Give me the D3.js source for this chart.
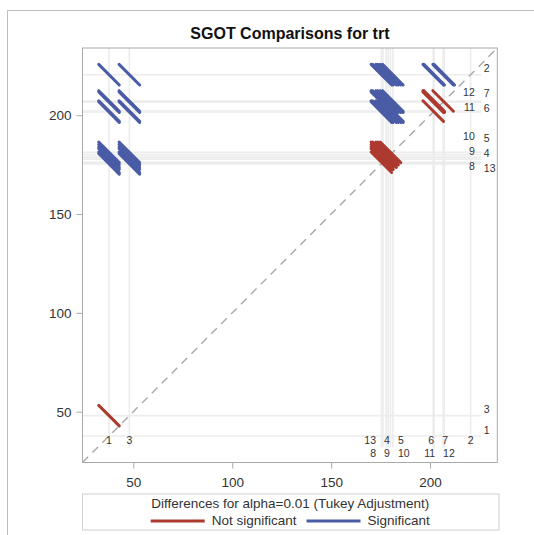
<!DOCTYPE html>
<html>
<head>
<meta charset="utf-8">
<script src="https://cdn.jsdelivr.net/npm/d3@7"></script>
<style>
  body { margin: 0; background: #fff; }
  text { font-family: "Liberation Sans", Arial, sans-serif; }
</style>
</head>
<body>
<svg id="chart" width="534" height="535"></svg>
<script>
// ---------------- data ----------------
const titleText = "SGOT Comparisons for trt";
const legendTitle = "Differences for alpha=0.01 (Tukey Adjustment)";
const legendLabels = ["Not significant", "Significant"];
const levels = ["1", "2", "3", "4", "5", "6", "7", "8", "9", "10", "11", "12", "13"];
const lsmeans = [37.7, 220.5, 48.0, 177.8, 180.0, 201.6, 206.6, 176.2, 178.8, 181.2, 202.1, 207.2, 175.4];
const ciHalfWidth = 10.4;          // Tukey-adjusted CI half-width of a difference
const xTicks = [50, 100, 150, 200];
const yTicks = [50, 100, 150, 200];
const axisDomain = [24.3, 234.0];

// ---------------- layout ----------------
const W = 534, H = 535;
const frame = { left: 82.5, top: 48, right: 497.3, bottom: 462.5 };
const colors = { sig: "#4a5ca6", nonsig: "#ad3a2f", ref: "#ececec", frame: "#a9a9a9", text: "#333" };

const svg = d3.select("#chart");

// outer border
svg.append("rect").attr("x", 7.5).attr("y", 10.5).attr("width", 600).attr("height", 600)
  .attr("fill", "none").attr("stroke", "#bdbdbd");

// title
svg.append("text").attr("x", (frame.left + frame.right) / 2).attr("y", 39)
  .attr("text-anchor", "middle").attr("font-size", 16).attr("font-weight", "bold")
  .attr("fill", "#111").text(titleText);

const x = d3.scaleLinear().domain(axisDomain).range([frame.left, frame.right]);
const y = d3.scaleLinear().domain(axisDomain).range([frame.bottom, frame.top]);

svg.append("clipPath").attr("id", "plotclip").append("rect")
  .attr("x", frame.left).attr("y", frame.top)
  .attr("width", frame.right - frame.left).attr("height", frame.bottom - frame.top);

const plot = svg.append("g").attr("clip-path", "url(#plotclip)");

// reference lines
const hLineEnd = frame.right - 16;
const vLineEnd = frame.bottom - 15;
plot.append("g").selectAll("line.h").data(lsmeans).join("line")
  .attr("x1", frame.left).attr("x2", hLineEnd)
  .attr("y1", d => y(d)).attr("y2", d => y(d))
  .attr("stroke", colors.ref).attr("stroke-width", 1.6);
plot.append("g").selectAll("line.v").data(lsmeans).join("line")
  .attr("y1", frame.top).attr("y2", vLineEnd)
  .attr("x1", d => x(d)).attr("x2", d => x(d))
  .attr("stroke", colors.ref).attr("stroke-width", 1.6);

// diagonal
plot.append("line")
  .attr("x1", x(axisDomain[0])).attr("y1", y(axisDomain[0]))
  .attr("x2", x(axisDomain[1])).attr("y2", y(axisDomain[1]))
  .attr("stroke", "#a8a8a8").attr("stroke-width", 1.4).attr("stroke-dasharray", "8,6");

// pairwise comparison segments
const pairs = [];
for (let i = 0; i < levels.length; i++) {
  for (let j = i + 1; j < levels.length; j++) {
    const lo = Math.min(lsmeans[i], lsmeans[j]);
    const hi = Math.max(lsmeans[i], lsmeans[j]);
    pairs.push({ lo, hi, sig: (hi - lo) > ciHalfWidth });
  }
}
const hw = ciHalfWidth / 2;
plot.append("g").selectAll("line").data(pairs).join("line")
  .attr("x1", d => x(d.lo - hw)).attr("y1", d => y(d.hi + hw))
  .attr("x2", d => x(d.lo + hw)).attr("y2", d => y(d.hi - hw))
  .attr("stroke", d => d.sig ? colors.sig : colors.nonsig)
  .attr("stroke-width", 3).attr("stroke-linecap", "round");

// frame
svg.append("rect").attr("x", frame.left).attr("y", frame.top)
  .attr("width", frame.right - frame.left).attr("height", frame.bottom - frame.top)
  .attr("fill", "none").attr("stroke", colors.frame);

// axes
const yAxis = svg.append("g").attr("transform", `translate(${frame.left},0)`)
  .call(d3.axisLeft(y).tickValues(yTicks).tickSize(6).tickPadding(5).tickSizeOuter(0));
const xAxis = svg.append("g").attr("transform", `translate(0,${frame.bottom})`)
  .call(d3.axisBottom(x).tickValues(xTicks).tickSize(6).tickPadding(9).tickSizeOuter(0));
[xAxis, yAxis].forEach(a => {
  a.select(".domain").remove();
  a.selectAll(".tick line").attr("stroke", colors.frame);
  a.selectAll(".tick text").attr("font-size", 13.5).attr("fill", colors.text)
    .attr("font-family", "Liberation Sans, Arial, sans-serif");
});

// ---------------- level labels (slot assignment + 1-D de-overlap) ----------------
const measure = svg.append("text").attr("font-size", 10.5).attr("visibility", "hidden");
function textW(s) { measure.text(s); return measure.node().getComputedTextLength(); }

function layoutLabels(items, clusterGap, singletonSlot, spacingFn) {
  items.sort((a, b) => a.ideal - b.ideal);
  const clusters = [];
  items.forEach((it, k) => {
    if (k === 0 || it.ideal - items[k - 1].ideal >= clusterGap) clusters.push([it]);
    else clusters[clusters.length - 1].push(it);
  });
  clusters.forEach(c => {
    if (c.length === 1) c[0].slot = singletonSlot;
    else c.forEach((it, k) => it.slot = k % 2);
  });
  [0, 1].forEach(s => {
    const row = items.filter(it => it.slot === s);
    const blocks = [];
    row.forEach(it => {
      blocks.push({ items: [it], offs: [0], pos: it.ideal });
      while (blocks.length > 1) {
        const b = blocks[blocks.length - 1], a = blocks[blocks.length - 2];
        const lastA = a.items[a.items.length - 1];
        const sp = spacingFn(lastA, b.items[0]);
        if (a.pos + a.offs[a.offs.length - 1] + sp > b.pos) {
          const base = a.offs[a.offs.length - 1] + sp;
          const m = { items: a.items.concat(b.items), offs: a.offs.concat(b.offs.map(o => o + base)) };
          m.pos = d3.mean(m.items, (it, k) => it.ideal - m.offs[k]);
          blocks.splice(blocks.length - 2, 2, m);
        } else break;
      }
    });
    blocks.forEach(b => b.items.forEach((it, k) => it.pos = b.pos + b.offs[k]));
  });
  return items;
}

// bottom labels
const bottomItems = levels.map((l, i) => ({ label: l, ideal: x(lsmeans[i]), w: textW(l) }));
layoutLabels(bottomItems, 15, 0, (a, b) => (a.w + b.w) / 2 + 8);
svg.append("g").selectAll("text").data(bottomItems).join("text")
  .attr("x", d => d.pos)
  .attr("y", d => d.slot === 0 ? frame.bottom - 18.5 : frame.bottom - 5.5)
  .attr("text-anchor", "middle").attr("font-size", 10.5).attr("fill", colors.text)
  .text(d => d.label);

// right labels
const rightItems = levels.map((l, i) => ({ label: l, ideal: y(lsmeans[i]) - 2.5 }));
layoutLabels(rightItems, 15, 1, () => 15);
svg.append("g").selectAll("text").data(rightItems).join("text")
  .attr("x", d => d.slot === 0 ? frame.right - 22.5 : frame.right - 13.5)
  .attr("y", d => d.pos)
  .attr("text-anchor", d => d.slot === 0 ? "end" : "start")
  .attr("font-size", 10.5).attr("fill", colors.text)
  .text(d => d.label);

// ---------------- legend ----------------
const lg = { left: 82.5, top: 494, right: 499, bottom: 530 };
svg.append("rect").attr("x", lg.left).attr("y", lg.top)
  .attr("width", lg.right - lg.left).attr("height", lg.bottom - lg.top)
  .attr("fill", "none").attr("stroke", "#cfcfcf");
const lcx = (lg.left + lg.right) / 2 - 0.5;
svg.append("text").attr("x", lcx).attr("y", 508).attr("text-anchor", "middle")
  .attr("font-size", 13.5).attr("fill", colors.text).text(legendTitle);

const legendColors = [colors.nonsig, colors.sig];
const measure2 = svg.append("text").attr("font-size", 13.5).attr("visibility", "hidden");
const lw = legendLabels.map(s => { measure2.text(s); return measure2.node().getComputedTextLength(); });
const lineLen = 54, g1 = 7, g2 = 10;
const total = lineLen + g1 + lw[0] + g2 + lineLen + g1 + lw[1];
let cx = lcx - total / 2;
legendLabels.forEach((lab, k) => {
  svg.append("line").attr("x1", cx).attr("x2", cx + lineLen).attr("y1", 521).attr("y2", 521)
    .attr("stroke", legendColors[k]).attr("stroke-width", 3);
  cx += lineLen + g1;
  svg.append("text").attr("x", cx).attr("y", 525).attr("font-size", 13.5)
    .attr("fill", colors.text).text(lab);
  cx += lw[k] + g2;
});
measure.remove(); measure2.remove();
</script>
</body>
</html>
